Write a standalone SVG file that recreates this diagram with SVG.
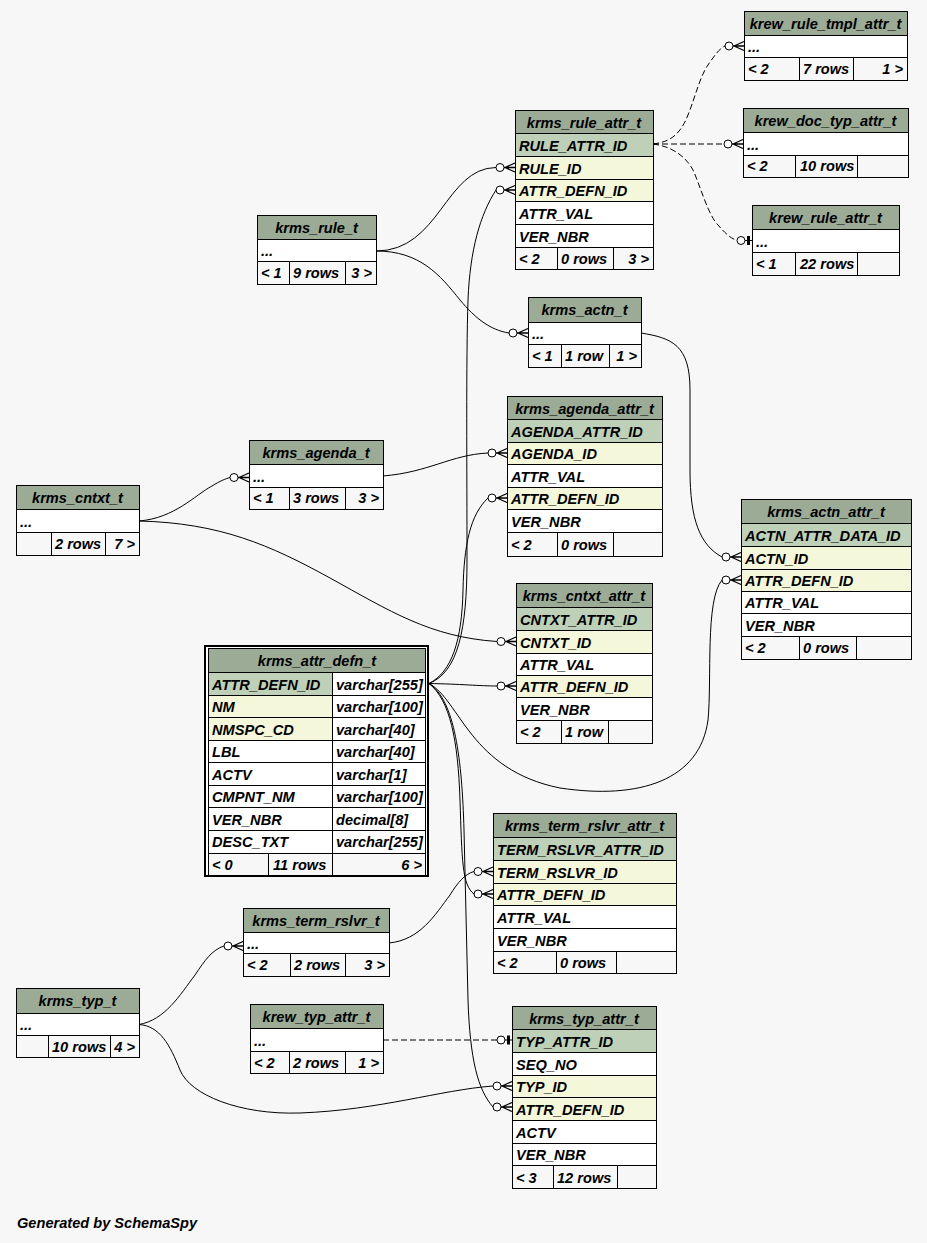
<svg xmlns="http://www.w3.org/2000/svg" xmlns:xlink="http://www.w3.org/1999/xlink" width="927" height="1243" viewBox="0 0 927 1243">
<style>
.hd{fill:#9bab96}.pk{fill:#bed1b8}.fk{fill:#f4f7da}.rw{fill:#ffffff}
.tb{fill:none;stroke:#000;stroke-width:1}
.ln{fill:none;stroke:#000;stroke-width:1}
.cn{fill:none;stroke:#000;stroke-width:1}
.ds{stroke-dasharray:6,3}
text{font-family:"Liberation Sans",Arial,Helvetica,sans-serif;font-weight:bold;font-style:italic;font-size:14.6px;fill:#000}
.c{text-anchor:middle}.r{text-anchor:end}
</style>
<defs>
<g id="crow"><circle cx="-15" cy="0" r="4" fill="#fff" stroke="#000" stroke-width="1"/><path d="M-11 0H0M-10 0L0 -4.5M-10 0L0 4.5" fill="none" stroke="#000" stroke-width="1.3"/></g>
<g id="zo"><path d="M-7 0H0" stroke="#000" fill="none"/><circle cx="-11" cy="0" r="4" fill="#fff" stroke="#000" stroke-width="1"/><rect x="-5" y="-4.5" width="3" height="9" fill="#000"/></g>
</defs>
<rect x="0" y="0" width="927" height="1243" fill="#f7f7f7"/>

<g id="connectors">
<path class="cn" d="M376,251 C440,251 445,168 496,167.5"/>
<path class="cn" d="M429,683.5 C458,672 467,630 467,560 C467,470 466,360 468,300 C470,250 480,215 496,190"/>
<path class="cn" d="M376,251 C420,251 440,275 460,300 C475,318 490,330 509,333"/>
<path class="cn ds" d="M653,144 C670,142 680,135 688,115 C696,95 700,75 710,62 C715,55 720,48 725,46"/>
<path class="cn ds" d="M653,144 L724,144"/>
<path class="cn ds" d="M653,144 C670,146 685,155 693,170 C700,185 708,215 718,225 C725,233 730,238 737,240.5"/>
<path class="cn" d="M641,333 C672,338 690,345 690,390 L690,470 C690,520 700,545 722,557"/>
<path class="cn" d="M139,521 C175,518 195,495 212,486 C220,481 225,479 230,477.5"/>
<path class="cn" d="M383,476 C430,472 450,455 488,453"/>
<path class="cn" d="M429,683.5 C452,672 462,640 463,590 C464,545 470,515 488,498"/>
<path class="cn" d="M139,521 C220,523 270,545 330,578 C390,611 430,637 497,641.5"/>
<path class="cn" d="M429,683.5 C460,684 480,686 497,686"/>
<path class="cn" d="M429,683.5 C460,700 470,770 560,788 C640,800 700,780 708,720 C712,680 705,600 722,580"/>
<path class="cn" d="M429,683.5 C450,700 458,740 460,800 C462,860 462,885 474,894"/>
<path class="cn" d="M389,943 C420,940 435,915 450,895 C458,882 465,874 474,871.5"/>
<path class="cn" d="M429,683.5 C455,700 462,760 464,830 L468,1000 C470,1060 478,1090 493,1107"/>
<path class="cn" d="M139,1024.5 C165,1020 180,995 195,975 C205,960 212,950 224,946"/>
<path class="cn" d="M139,1024.5 C160,1026 170,1045 180,1070 C190,1095 240,1115 300,1113 C380,1110 440,1090 493,1086"/>
<path class="cn ds" d="M383,1040 L497,1040"/>
<use xlink:href="#crow" href="#crow" transform="translate(515,167.5)"/>
<use xlink:href="#crow" href="#crow" transform="translate(515,190)"/>
<use xlink:href="#crow" href="#crow" transform="translate(528,333)"/>
<use xlink:href="#crow" href="#crow" transform="translate(744,46)"/>
<use xlink:href="#crow" href="#crow" transform="translate(743,144)"/>
<use xlink:href="#zo" href="#zo" transform="translate(752,240.5)"/>
<use xlink:href="#crow" href="#crow" transform="translate(741,557)"/>
<use xlink:href="#crow" href="#crow" transform="translate(741,580)"/>
<use xlink:href="#crow" href="#crow" transform="translate(249,477.5)"/>
<use xlink:href="#crow" href="#crow" transform="translate(507,453)"/>
<use xlink:href="#crow" href="#crow" transform="translate(507,498)"/>
<use xlink:href="#crow" href="#crow" transform="translate(516,641.5)"/>
<use xlink:href="#crow" href="#crow" transform="translate(516,686)"/>
<use xlink:href="#crow" href="#crow" transform="translate(493,871.5)"/>
<use xlink:href="#crow" href="#crow" transform="translate(493,894)"/>
<use xlink:href="#crow" href="#crow" transform="translate(243,946)"/>
<use xlink:href="#crow" href="#crow" transform="translate(512,1086)"/>
<use xlink:href="#crow" href="#crow" transform="translate(512,1107)"/>
<use xlink:href="#zo" href="#zo" transform="translate(512,1040)"/>
</g>

<g id="krew_rule_tmpl_attr_t">
<rect class="hd" x="744" y="11" width="163" height="24"/>
<rect class="rw" x="744" y="35" width="163" height="22"/>
<rect class="tb" x="744.5" y="11.5" width="163" height="69"/>
<path class="ln" d="M744 35.5H907M744 57.5H907M799.5 57V80M853.5 57V80"/>
<text class="c" x="825.5" y="29">krew_rule_tmpl_attr_t</text>
<text x="748" y="52">...</text>
<text x="748" y="74">&lt; 2</text><text x="803" y="74">7 rows</text><text class="r" x="903" y="74">1 &gt;</text>
</g>

<g id="krew_doc_typ_attr_t">
<rect class="hd" x="743" y="108" width="165" height="24"/>
<rect class="rw" x="743" y="132" width="165" height="23"/>
<rect class="tb" x="743.5" y="108.5" width="165" height="69"/>
<path class="ln" d="M743 132.5H908M743 155.5H908M795.5 155V177M857.5 155V177"/>
<text class="c" x="825.5" y="126">krew_doc_typ_attr_t</text>
<text x="747" y="150">...</text>
<text x="747" y="171">&lt; 2</text><text x="800" y="171">10 rows</text>
</g>

<g id="krew_rule_attr_t">
<rect class="hd" x="752" y="205" width="147" height="24"/>
<rect class="rw" x="752" y="229" width="147" height="23"/>
<rect class="tb" x="752.5" y="205.5" width="147" height="70"/>
<path class="ln" d="M752 229.5H899M752 252.5H899M795.5 252V275M857.5 252V275"/>
<text class="c" x="825.5" y="223">krew_rule_attr_t</text>
<text x="756" y="247">...</text>
<text x="756" y="269">&lt; 1</text><text x="800" y="269">22 rows</text>
</g>

<g id="krms_rule_attr_t">
<rect class="hd" x="515" y="110" width="138" height="23"/>
<rect class="pk" x="515" y="133" width="138" height="23"/>
<rect class="fk" x="515" y="156" width="138" height="23"/>
<rect class="fk" x="515" y="179" width="138" height="22"/>
<rect class="rw" x="515" y="201" width="138" height="46"/>
<rect class="tb" x="515.5" y="110.5" width="138" height="159"/>
<path class="ln" d="M515 133.5H653M515 156.5H653M515 179.5H653M515 201.5H653M515 224.5H653M515 247.5H653M557.5 247V269M613.5 247V269"/>
<text class="c" x="584" y="128">krms_rule_attr_t</text>
<text x="519" y="151">RULE_ATTR_ID</text>
<text x="519" y="174">RULE_ID</text>
<text x="519" y="196">ATTR_DEFN_ID</text>
<text x="519" y="219">ATTR_VAL</text>
<text x="519" y="242">VER_NBR</text>
<text x="519" y="264">&lt; 2</text><text x="561" y="264">0 rows</text><text class="r" x="649" y="264">3 &gt;</text>
</g>

<g id="krms_rule_t">
<rect class="hd" x="257" y="215" width="119" height="24"/>
<rect class="rw" x="257" y="239" width="119" height="22"/>
<rect class="tb" x="257.5" y="215.5" width="119" height="69"/>
<path class="ln" d="M257 239.5H376M257 261.5H376M289.5 261V284M345.5 261V284"/>
<text class="c" x="316.5" y="233">krms_rule_t</text>
<text x="261" y="256">...</text>
<text x="261" y="278">&lt; 1</text><text x="293" y="278">9 rows</text><text class="r" x="372" y="278">3 &gt;</text>
</g>

<g id="krms_actn_t">
<rect class="hd" x="528" y="297" width="113" height="25"/>
<rect class="rw" x="528" y="322" width="113" height="22"/>
<rect class="tb" x="528.5" y="297.5" width="113" height="70"/>
<path class="ln" d="M528 322.5H641M528 344.5H641M561.5 344V367M609.5 344V367"/>
<text class="c" x="584.5" y="315">krms_actn_t</text>
<text x="532" y="339">...</text>
<text x="532" y="361">&lt; 1</text><text x="565" y="361">1 row</text><text class="r" x="637" y="361">1 &gt;</text>
</g>

<g id="krms_agenda_attr_t">
<rect class="hd" x="507" y="396" width="155" height="23"/>
<rect class="pk" x="507" y="419" width="155" height="23"/>
<rect class="fk" x="507" y="442" width="155" height="22"/>
<rect class="rw" x="507" y="464" width="155" height="23"/>
<rect class="fk" x="507" y="487" width="155" height="22"/>
<rect class="rw" x="507" y="509" width="155" height="23"/>
<rect class="tb" x="507.5" y="396.5" width="155" height="160"/>
<path class="ln" d="M507 419.5H662M507 442.5H662M507 464.5H662M507 487.5H662M507 509.5H662M507 532.5H662M557.5 532V556M613.5 532V556"/>
<text class="c" x="584.5" y="414">krms_agenda_attr_t</text>
<text x="511" y="437">AGENDA_ATTR_ID</text>
<text x="511" y="459">AGENDA_ID</text>
<text x="511" y="482">ATTR_VAL</text>
<text x="511" y="504">ATTR_DEFN_ID</text>
<text x="511" y="527">VER_NBR</text>
<text x="511" y="550">&lt; 2</text><text x="561" y="550">0 rows</text>
</g>

<g id="krms_agenda_t">
<rect class="hd" x="249" y="440" width="134" height="24"/>
<rect class="rw" x="249" y="464" width="134" height="23"/>
<rect class="tb" x="249.5" y="440.5" width="134" height="69"/>
<path class="ln" d="M249 464.5H383M249 487.5H383M289.5 487V509M345.5 487V509"/>
<text class="c" x="316" y="458">krms_agenda_t</text>
<text x="253" y="482">...</text>
<text x="253" y="503">&lt; 1</text><text x="293" y="503">3 rows</text><text class="r" x="379" y="503">3 &gt;</text>
</g>

<g id="krms_cntxt_t">
<rect class="hd" x="16" y="485" width="123" height="24"/>
<rect class="rw" x="16" y="509" width="123" height="23"/>
<rect class="tb" x="16.5" y="485.5" width="123" height="70"/>
<path class="ln" d="M16 509.5H139M16 532.5H139M51.5 532V555M105.5 532V555"/>
<text class="c" x="77.5" y="503">krms_cntxt_t</text>
<text x="20" y="527">...</text>
<text x="55" y="549">2 rows</text><text class="r" x="135" y="549">7 &gt;</text>
</g>

<g id="krms_attr_defn_t">
<rect x="205" y="646" width="223" height="230" fill="#fff" stroke="#000" stroke-width="2"/>
<rect class="hd" x="208" y="648" width="218" height="24"/>
<rect class="pk" x="208" y="672" width="124" height="23"/>
<rect class="fk" x="208" y="695" width="124" height="22"/>
<rect class="fk" x="208" y="717" width="124" height="23"/>
<rect fill="#f7f7f7" x="208" y="853" width="218" height="22"/>
<rect class="tb" x="208.5" y="648.5" width="217" height="227"/>
<path class="ln" d="M208 672.5H426M208 695.5H426M208 717.5H426M208 740.5H426M208 762.5H426M208 785.5H426M208 807.5H426M208 830.5H426M208 853.5H426M332.5 672V875M268.5 853V875"/>
<text class="c" x="317" y="666">krms_attr_defn_t</text>
<text x="212" y="690">ATTR_DEFN_ID</text><text x="336" y="690">varchar[255]</text>
<text x="212" y="712">NM</text><text x="336" y="712">varchar[100]</text>
<text x="212" y="735">NMSPC_CD</text><text x="336" y="735">varchar[40]</text>
<text x="212" y="757">LBL</text><text x="336" y="757">varchar[40]</text>
<text x="212" y="780">ACTV</text><text x="336" y="780">varchar[1]</text>
<text x="212" y="802">CMPNT_NM</text><text x="336" y="802">varchar[100]</text>
<text x="212" y="825">VER_NBR</text><text x="336" y="825">decimal[8]</text>
<text x="212" y="847">DESC_TXT</text><text x="336" y="847">varchar[255]</text>
<text x="212" y="870">&lt; 0</text><text x="273" y="870">11 rows</text><text class="r" x="422" y="870">6 &gt;</text>
</g>

<g id="krms_cntxt_attr_t">
<rect class="hd" x="516" y="583" width="136" height="24"/>
<rect class="pk" x="516" y="607" width="136" height="23"/>
<rect class="fk" x="516" y="630" width="136" height="23"/>
<rect class="rw" x="516" y="653" width="136" height="22"/>
<rect class="fk" x="516" y="675" width="136" height="22"/>
<rect class="rw" x="516" y="697" width="136" height="23"/>
<rect class="tb" x="516.5" y="583.5" width="136" height="160"/>
<path class="ln" d="M516 607.5H652M516 630.5H652M516 653.5H652M516 675.5H652M516 697.5H652M516 720.5H652M561.5 720V743M608.5 720V743"/>
<text class="c" x="584" y="601">krms_cntxt_attr_t</text>
<text x="520" y="625">CNTXT_ATTR_ID</text>
<text x="520" y="648">CNTXT_ID</text>
<text x="520" y="670">ATTR_VAL</text>
<text x="520" y="692">ATTR_DEFN_ID</text>
<text x="520" y="715">VER_NBR</text>
<text x="520" y="737">&lt; 2</text><text x="565" y="737">1 row</text>
</g>

<g id="krms_actn_attr_t">
<rect class="hd" x="741" y="499" width="170" height="24"/>
<rect class="pk" x="741" y="523" width="170" height="23"/>
<rect class="fk" x="741" y="546" width="170" height="23"/>
<rect class="fk" x="741" y="569" width="170" height="22"/>
<rect class="rw" x="741" y="591" width="170" height="45"/>
<rect class="tb" x="741.5" y="499.5" width="170" height="160"/>
<path class="ln" d="M741 523.5H911M741 546.5H911M741 569.5H911M741 591.5H911M741 613.5H911M741 636.5H911M799.5 636V659M856.5 636V659"/>
<text class="c" x="826" y="517">krms_actn_attr_t</text>
<text x="745" y="541">ACTN_ATTR_DATA_ID</text>
<text x="745" y="564">ACTN_ID</text>
<text x="745" y="586">ATTR_DEFN_ID</text>
<text x="745" y="608">ATTR_VAL</text>
<text x="745" y="631">VER_NBR</text>
<text x="745" y="653">&lt; 2</text><text x="803" y="653">0 rows</text>
</g>

<g id="krms_term_rslvr_attr_t">
<rect class="hd" x="493" y="813" width="183" height="24"/>
<rect class="pk" x="493" y="837" width="183" height="23"/>
<rect class="fk" x="493" y="860" width="183" height="23"/>
<rect class="fk" x="493" y="883" width="183" height="22"/>
<rect class="rw" x="493" y="905" width="183" height="46"/>
<rect class="tb" x="493.5" y="813.5" width="183" height="160"/>
<path class="ln" d="M493 837.5H676M493 860.5H676M493 883.5H676M493 905.5H676M493 928.5H676M493 951.5H676M556.5 951V973M616.5 951V973"/>
<text class="c" x="584.5" y="831">krms_term_rslvr_attr_t</text>
<text x="497" y="855">TERM_RSLVR_ATTR_ID</text>
<text x="497" y="878">TERM_RSLVR_ID</text>
<text x="497" y="900">ATTR_DEFN_ID</text>
<text x="497" y="923">ATTR_VAL</text>
<text x="497" y="946">VER_NBR</text>
<text x="497" y="968">&lt; 2</text><text x="560" y="968">0 rows</text>
</g>

<g id="krms_term_rslvr_t">
<rect class="hd" x="243" y="908" width="146" height="24"/>
<rect class="rw" x="243" y="932" width="146" height="21"/>
<rect class="tb" x="243.5" y="908.5" width="146" height="68"/>
<path class="ln" d="M243 932.5H389M243 953.5H389M290.5 953V976M345.5 953V976"/>
<text class="c" x="316" y="926">krms_term_rslvr_t</text>
<text x="247" y="949">...</text>
<text x="247" y="970">&lt; 2</text><text x="294" y="970">2 rows</text><text class="r" x="385" y="970">3 &gt;</text>
</g>

<g id="krms_typ_t">
<rect class="hd" x="16" y="988" width="123" height="25"/>
<rect class="rw" x="16" y="1013" width="123" height="22"/>
<rect class="tb" x="16.5" y="988.5" width="123" height="69"/>
<path class="ln" d="M16 1013.5H139M16 1035.5H139M48.5 1035V1057M110.5 1035V1057"/>
<text class="c" x="77.5" y="1006">krms_typ_t</text>
<text x="20" y="1030">...</text>
<text x="52" y="1052">10 rows</text><text class="r" x="135" y="1052">4 &gt;</text>
</g>

<g id="krew_typ_attr_t">
<rect class="hd" x="250" y="1004" width="133" height="24"/>
<rect class="rw" x="250" y="1028" width="133" height="23"/>
<rect class="tb" x="250.5" y="1004.5" width="133" height="69"/>
<path class="ln" d="M250 1028.5H383M250 1051.5H383M289.5 1051V1073M345.5 1051V1073"/>
<text class="c" x="316.5" y="1022">krew_typ_attr_t</text>
<text x="254" y="1046">...</text>
<text x="254" y="1068">&lt; 2</text><text x="293" y="1068">2 rows</text><text class="r" x="379" y="1068">1 &gt;</text>
</g>

<g id="krms_typ_attr_t">
<rect class="hd" x="512" y="1006" width="144" height="23"/>
<rect class="pk" x="512" y="1029" width="144" height="23"/>
<rect class="rw" x="512" y="1052" width="144" height="23"/>
<rect class="fk" x="512" y="1075" width="144" height="22"/>
<rect class="fk" x="512" y="1097" width="144" height="23"/>
<rect class="rw" x="512" y="1120" width="144" height="45"/>
<rect class="tb" x="512.5" y="1006.5" width="144" height="182"/>
<path class="ln" d="M512 1029.5H656M512 1052.5H656M512 1075.5H656M512 1097.5H656M512 1120.5H656M512 1143.5H656M512 1165.5H656M553.5 1165V1188M617.5 1165V1188"/>
<text class="c" x="584" y="1024">krms_typ_attr_t</text>
<text x="516" y="1047">TYP_ATTR_ID</text>
<text x="516" y="1070">SEQ_NO</text>
<text x="516" y="1092">TYP_ID</text>
<text x="516" y="1115">ATTR_DEFN_ID</text>
<text x="516" y="1138">ACTV</text>
<text x="516" y="1160">VER_NBR</text>
<text x="516" y="1183">&lt; 3</text><text x="557" y="1183">12 rows</text>
</g>

<text x="17" y="1228">Generated by SchemaSpy</text>
</svg>
